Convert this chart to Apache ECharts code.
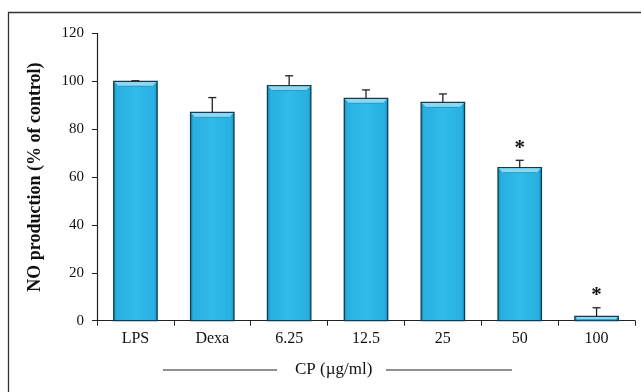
<!DOCTYPE html>
<html>
<head>
<meta charset="utf-8">
<script src="https://cdn.jsdelivr.net/npm/echarts@6/dist/echarts.min.js"></script>
<style>
  html, body { margin: 0; padding: 0; background: #fff; }
  #chart { width: 641px; height: 392px; }
</style>
</head>
<body>
<div id="chart"></div>
<script>
// NO production by treatment group
var categories = ['LPS', 'Dexa', '6.25', '12.5', '25', '50', '100'];
var means = [100, 87, 98.2, 92.9, 91.2, 63.9, 1.8];
var errorTops = [100.2, 93.2, 102.3, 96.4, 94.7, 67, 5.4];
var significant = [false, false, false, false, false, true, true];
var yTicks = [0, 20, 40, 60, 80, 100, 120];

var FONT = '"Liberation Serif", "Times New Roman", serif';
var chart = echarts.init(document.getElementById('chart'));

function renderBar(params, api) {
  var x = api.value(0);
  var top = api.coord([x, api.value(1)]);
  var base = api.coord([x, 0]);
  var w = api.size([1, 0])[0] * 0.565;
  var x0 = top[0] - w / 2;
  var h = base[1] - top[1];
  var bev = Math.min(5, Math.max(h - 1, 1));
  var children = [
    {
      type: 'rect',
      shape: { x: x0, y: top[1], width: w, height: h },
      style: {
        fill: new echarts.graphic.LinearGradient(0, 0, 1, 0, [
          { offset: 0, color: '#1787b5' },
          { offset: 0.08, color: '#27b0e0' },
          { offset: 0.5, color: '#31bbe9' },
          { offset: 0.92, color: '#27b0e0' },
          { offset: 1, color: '#1787b5' }
        ]),
        stroke: '#0f3d57',
        lineWidth: 1.3
      }
    },
    {
      type: 'polygon',
      shape: { points: [[x0 + 0.6, top[1] + 0.6], [x0 + w - 0.6, top[1] + 0.6], [x0 + w - bev, top[1] + bev], [x0 + bev, top[1] + bev]] },
      style: { fill: '#8ad8f1' }
    },
    {
      type: 'line',
      shape: { x1: x0 + bev, y1: top[1] + bev, x2: x0 + w - bev, y2: top[1] + bev },
      style: { stroke: '#1f9bcc', lineWidth: 1 }
    }
  ];
  return { type: 'group', children: children };
}

function renderError(params, api) {
  var x = api.value(0);
  var from = api.coord([x, api.value(1)]);
  var to = api.coord([x, api.value(2)]);
  var cap = 4;
  var children = [
    { type: 'line', shape: { x1: to[0], y1: from[1], x2: to[0], y2: to[1] }, style: { stroke: '#222', lineWidth: 1.3 } },
    { type: 'line', shape: { x1: to[0] - cap, y1: to[1], x2: to[0] + cap, y2: to[1] }, style: { stroke: '#222', lineWidth: 1.3 } }
  ];
  if (api.value(3)) {
    children.push({
      type: 'text',
      style: { text: '*', x: to[0], y: to[1] - 12, align: 'center', verticalAlign: 'middle', font: 'bold 21px ' + FONT, fill: '#111' }
    });
  }
  return { type: 'group', children: children };
}

var barData = categories.map(function (c, i) { return [i, means[i]]; });
var errData = categories.map(function (c, i) { return [i, means[i], errorTops[i], significant[i] ? 1 : 0]; });

chart.setOption({
  animation: false,
  backgroundColor: '#fff',
  grid: { left: 97, right: 6, top: 33.4, bottom: 71.3 },
  xAxis: {
    type: 'category',
    data: categories,
    boundaryGap: true,
    axisLine: { lineStyle: { color: '#222', width: 1.2 } },
    axisTick: { show: true, length: 5, alignWithLabel: false, lineStyle: { color: '#222' } },
    axisLabel: { color: '#111', fontFamily: FONT, fontSize: 16, margin: 10 }
  },
  yAxis: {
    type: 'value',
    min: yTicks[0],
    max: yTicks[yTicks.length - 1],
    interval: yTicks[1] - yTicks[0],
    name: 'NO production (% of control)',
    nameLocation: 'middle',
    nameRotate: 90,
    nameGap: 53,
    nameTextStyle: { color: '#111', fontFamily: FONT, fontSize: 18, fontWeight: 'bold' },
    axisLine: { show: true, lineStyle: { color: '#222', width: 1.2 } },
    axisTick: { show: true, length: 5, lineStyle: { color: '#222' } },
    axisLabel: { color: '#111', fontFamily: FONT, fontSize: 15, margin: 13 },
    splitLine: { show: false }
  },
  series: [
    { type: 'custom', renderItem: renderBar, data: barData, encode: { x: 0, y: 1 }, z: 2 },
    { type: 'custom', renderItem: renderError, data: errData, encode: { x: 0, y: [1, 2] }, z: 3 }
  ],
  graphic: [
    { type: 'polyline', shape: { points: [[8.5, 392], [8.5, 12.5], [641, 12.5]] }, style: { stroke: '#333', lineWidth: 1.3, fill: null } },
    { type: 'line', shape: { x1: 163, y1: 370, x2: 277, y2: 370 }, style: { stroke: '#222', lineWidth: 1 } },
    { type: 'line', shape: { x1: 386, y1: 370, x2: 512, y2: 370 }, style: { stroke: '#222', lineWidth: 1 } },
    { type: 'text', left: 295, top: 361, style: { text: 'CP (\u00b5g/ml)', font: '17px ' + FONT, fill: '#111' } }
  ]
});
</script>
</body>
</html>
